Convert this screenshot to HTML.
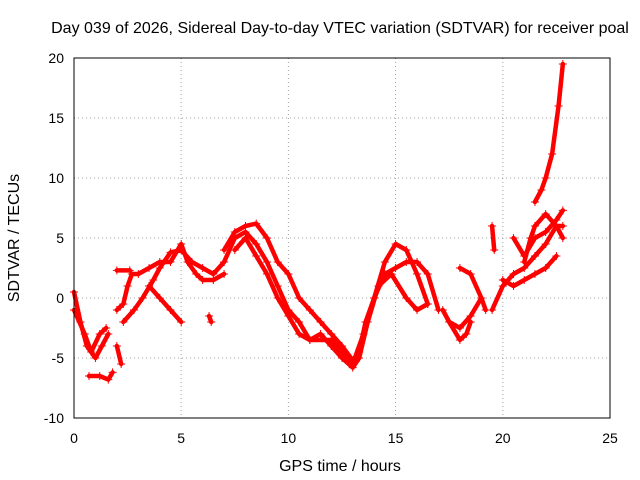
<!DOCTYPE html>
<html><head><meta charset="utf-8"><style>
body{margin:0;background:#fff}
svg{display:block;font-family:"Liberation Sans",sans-serif}
</style></head><body>
<svg id="chart" width="640" height="480">
<rect width="640" height="480" fill="#fff"/>
<text x="340" y="33" text-anchor="middle" font-size="16">Day 039 of 2026, Sidereal Day-to-day VTEC variation (SDTVAR) for receiver poal</text>
<g id="grid"></g>
<g id="marks"></g>
<rect x="74" y="58" width="536" height="360" fill="none" stroke="#000"/>
<text x="340" y="471" text-anchor="middle" font-size="16">GPS time / hours</text>
<text transform="translate(19,238) rotate(-90)" text-anchor="middle" font-size="16">SDTVAR / TECUs</text>
</svg>
<script>
const xTicks=[0,5,10,15,20,25];
const yTicks=[-10,-5,0,5,10,15,20];
const s1=[[0,0.5],[0.3,-2],[0.6,-4],[1,-5],[1.3,-4],[1.6,-3]];
const s2=[[0,-1],[0.5,-3],[0.8,-4.5],[1.2,-3],[1.5,-2.5]];
const s3=[[0.7,-6.5],[1.2,-6.5],[1.6,-6.8],[1.8,-6.2]];
const s4=[[2,-4],[2.2,-5.5]];
const s5=[[2,-1],[2.3,-0.5],[2.5,1],[2.7,2],[3,2],[3.5,2.5],[4,3],[4.5,3],[5,4.5],[5.3,3],[5.7,2],[6,1.5],[6.5,1.5],[7,2]];
const s6=[[2.3,-2],[2.8,-1],[3.2,0],[3.7,1.5],[4,2.5],[4.5,3.8],[5,4],[5.5,3],[6,2.5],[6.5,2],[7,3]];
const s7=[[3.5,1],[4,0],[4.5,-1],[5,-2]];
const s8=[[2,2.3],[2.6,2.3]];
const s9=[[6.3,-1.5],[6.4,-2]];
const s10=[[7,4],[7.5,5.5],[8,6],[8.5,6.2],[9,5],[9.5,3],[10,2],[10.5,0],[11,-1],[11.5,-2],[12,-3],[12.5,-4],[13,-5.2],[13.3,-4.5],[13.6,-2],[14,0],[14.5,2],[15,2.5],[15.5,3],[16,3],[16.5,2],[17,-1]];
const s11=[[7,3],[7.5,5],[8,5.5],[8.5,4.5],[9,3],[9.5,1],[10,-1],[10.5,-2],[11,-3.5],[12,-3.5],[12.5,-4.5],[13,-5.5],[13.5,-3],[14,0],[14.5,3],[15,4.5],[15.5,4],[16,2],[16.5,-0.5]];
const s12=[[7.5,4],[8,5],[8.5,3.5],[9,2],[9.5,0],[10,-1.5],[10.5,-3],[11,-3.5],[11.5,-3],[12,-4],[12.5,-5],[13,-5.8],[13.3,-5],[13.7,-2],[14.2,1],[14.8,2],[15.5,0],[16,-1],[16.5,-0.5]];
const s13=[[17.2,-1],[17.5,-2],[18,-3.5],[18.3,-3],[18.5,-2]];
const s14=[[18,2.5],[18.5,2],[19,0],[19.2,-1]];
const s15=[[17.5,-2],[18,-2.5],[18.5,-1.5],[19,0]];
const s16=[[19.5,-1],[20,1],[20.5,2],[21,2.5],[21.5,3.5],[22,4.5],[22.5,6],[22.8,6]];
const s17=[[20,1.5],[20.5,1],[21,1.5],[21.5,2],[22,2.5],[22.5,3.5]];
const s18=[[21,3],[21.3,5],[21.5,6],[22,7],[22.5,6],[22.8,5]];
const s19=[[21.5,8],[21.8,9],[22,10],[22.3,12],[22.6,16],[22.8,19.5]];
const s20=[[20.5,5],[21,3.5],[21.5,5],[22,5.5],[22.5,6.5],[22.8,7.3]];
const s21=[[19.5,6],[19.6,4]];
const series=[s1,s2,s3,s4,s5,s6,s7,s8,s9,s10,s11,s12,s13,s14,s15,s16,s17,s18,s19,s20,s21];
const NS="http://www.w3.org/2000/svg";
const X=v=>74+v*536/25, Y=v=>298-v*12;
const grid=document.getElementById('grid'), marks=document.getElementById('marks');
function mk(t,a,p){const e=document.createElementNS(NS,t);for(const k in a)e.setAttribute(k,a[k]);p.appendChild(e);return e;}
xTicks.forEach(t=>{
  const l=mk('line',{x1:X(t),x2:X(t),y1:58,y2:418,stroke:'#a0a0a0','stroke-dasharray':'1,3'},grid);
  
  
  const tx=mk('text',{x:X(t),y:443,'text-anchor':'middle','font-size':'14'},grid);
  tx.textContent=t;
  
  
});
yTicks.forEach(t=>{
  const l=mk('line',{x1:74,x2:610,y1:Y(t),y2:Y(t),stroke:'#a0a0a0','stroke-dasharray':'1,3'},grid);
  
  
  const tx=mk('text',{x:64,y:Y(t)+5,'text-anchor':'end','font-size':'14'},grid);
  tx.textContent=t;
  
  
});
series.forEach(s=>{
  const d=s.map((p,i)=>(i?'L':'M')+X(p[0])+','+Y(p[1])).join('');
  const path=mk('path',{d:d,fill:'none',stroke:'#f00','stroke-width':'4.5','stroke-linejoin':'round','stroke-linecap':'round'},marks);
  
  
  s.forEach(p=>{
    const x=X(p[0]),y=Y(p[1]);
    const m=mk('path',{d:`M${x-4},${y}H${x+4}M${x},${y-4}V${y+4}`,stroke:'#f00','stroke-width':'1'},marks);
    
    
  });
});
</script>
</body></html>
